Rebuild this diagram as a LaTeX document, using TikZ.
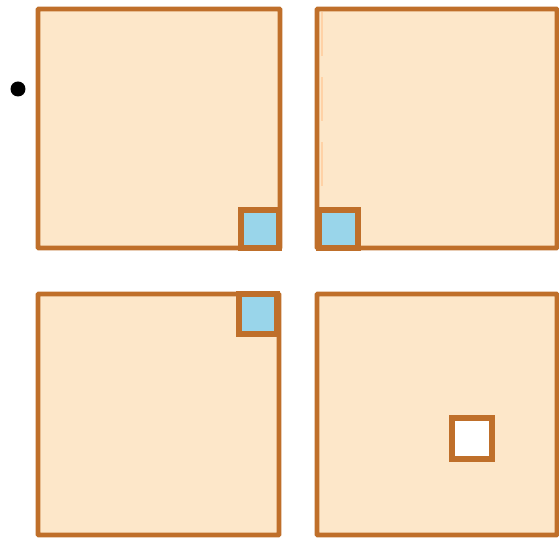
\documentclass[tikz,border=0pt]{standalone}
\usepackage{tikz}

\definecolor{peach}{HTML}{FDE7C9}
\definecolor{rust}{HTML}{BF6F2A}
\definecolor{sky}{HTML}{99D5EA}

\begin{document}
\begin{tikzpicture}[x=0.02cm,y=-0.02cm,
	board/.style={draw=rust,fill=peach,line width=2.8pt,rounded corners=0.5pt},
	cell/.style={draw=rust,line width=3pt}]
	\useasboundingbox (0,0) rectangle (559,540);
	\fill (18,89) circle (7.5);
	% top left
	\draw[board] (38,9) rectangle (280,248);
	\draw[cell,fill=sky] (241,210) rectangle (279,248);
	% top right
	\draw[board] (317,9) rectangle (557,248);
	\draw[orange!35,line width=1.5pt,dash pattern=on 25pt off 12pt] (322,12) -- (322,208);
	\draw[cell,fill=sky] (319,210) rectangle (358,248);
	% bottom left
	\draw[board] (38,294) rectangle (279,535);
	\draw[cell,fill=sky] (239,294) rectangle (277,334);
	% bottom right
	\draw[board] (317,294) rectangle (557,535);
	\draw[cell,fill=white] (452,418) rectangle (492,459);
\end{tikzpicture}
\end{document}
